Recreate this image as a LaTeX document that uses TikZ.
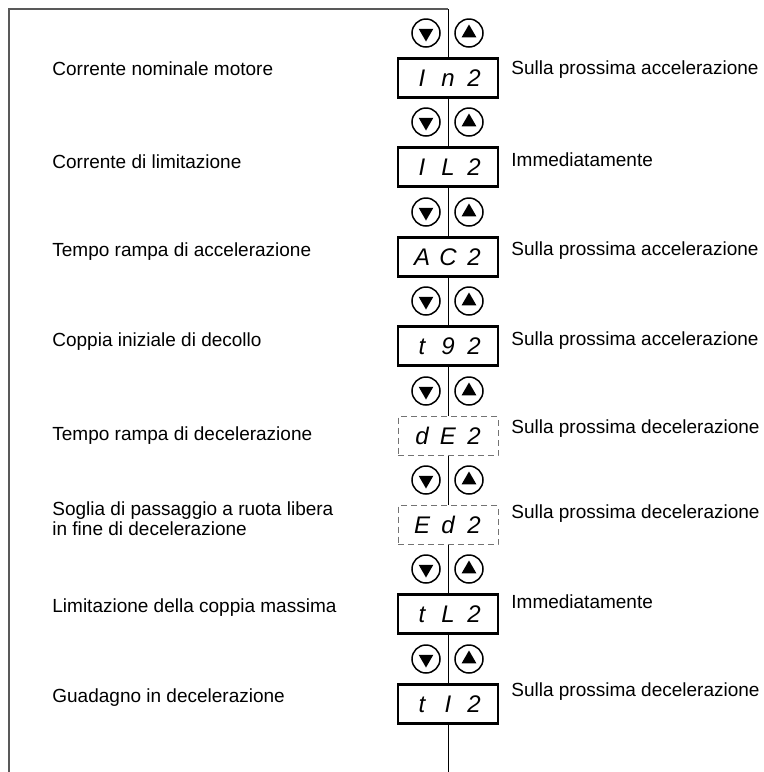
\documentclass[tikz,border=0pt]{standalone}
\usepackage{fontspec}
\setmainfont{Liberation Sans}
\usepackage{tikz}
\usetikzlibrary{
    calc,
    positioning,
    shapes.geometric
}
\newcommand{\segchars}[3]{\makebox[13pt]{#1}\makebox[13pt]{#2}\makebox[13pt]{#3}}
\tikzset
{
  display/.style={draw,line width=1.25pt,minimum width=50pt,minimum height=19.5pt,inner sep=0pt,
    font=\itshape\fontsize{12}{12}\selectfont},
  dashdisplay/.style={display,draw=black!55,line width=0.5pt,dash pattern=on 3pt off 2pt},
  button/.style={circle,draw,line width=0.75pt,minimum size=14pt,inner sep=0pt},
  triup/.style={regular polygon,regular polygon sides=3,fill,inner sep=0pt,minimum size=8.5pt},
  tridown/.style={triup,shape border rotate=180},
  param/.style={anchor=west,inner sep=0pt,align=left,font=\fontsize{9.5}{8.5}\selectfont},
  frame/.style={draw=black!65,line width=0.8pt},
  spine/.style={draw,line width=0.5pt}
}
\begin{document}
\begin{tikzpicture}[x=0.5pt,y=-0.5pt]
        \useasboundingbox (0,0) rectangle (764,772);

        % Frame corners
        \coordinate (topleft) at (9,9);
        \coordinate (botleft) at (9,772);
        \coordinate (topmid) at (448,9);
        \coordinate (botmid) at (448,772);

        % Displays
        \node[display] (disp1) at (448,78) {\segchars{I}{n}{2}};
        \node[display] (disp2) at (448,167) {\segchars{I}{L}{2}};
        \node[display] (disp3) at (448,257) {\segchars{A}{C}{2}};
        \node[display] (disp4) at (448,346) {\segchars{t}{9}{2}};
        \node[dashdisplay] (disp5) at (448,436) {\segchars{d}{E}{2}};
        \node[dashdisplay] (disp6) at (448,525) {\segchars{E}{d}{2}};
        \node[display] (disp7) at (448,614) {\segchars{t}{L}{2}};
        \node[display] (disp8) at (448,704) {\segchars{t}{I}{2}};

        % Buttons down / up
        \foreach \i/\y in {1/33,2/122,3/212,4/301,5/391,6/480,7/569,8/659}
        {
            \node[button] (dn\i) at (426,\y) {};
            \node[tridown] at (dn\i) {};
            \node[button] (up\i) at (469,\y) {};
            \node[triup] at (up\i) {};
        }

        % Frame and spine
        \draw[frame] (botleft) -- (topleft) -- (topmid);
        \draw[spine] (topmid) -- (disp1.north);
        \foreach \i [evaluate=\i as \j using int(\i+1)] in {1,...,7}
            \draw[spine] (disp\i.south) -- (disp\j.north);
        \draw[spine] (disp8.south) -- (botmid);

        % Parameter names
        \node[param] (par1) at (52,69) {Corrente nominale motore};
        \node[param] (par2) at (52,162) {Corrente di limitazione};
        \node[param] (par3) at (52,252) {Tempo rampa di accelerazione};
        \node[param] (par4) at (52,342) {Coppia iniziale di decollo};
        \node[param] (par5) at (52,436) {Tempo rampa di decelerazione};
        \node[param] (par6) at (52,519) {Soglia di passaggio a ruota libera\\in fine di decelerazione};
        \node[param] (par7) at (52,608) {Limitazione della coppia massima};
        \node[param] (par8) at (52,698) {Guadagno in decelerazione};

        % When the change takes effect
        \node[param] (when1) at (511,70) {Sulla prossima accelerazione};
        \node[param] (when2) at (511,160) {Immediatamente};
        \node[param] (when3) at (511,251) {Sulla prossima accelerazione};
        \node[param] (when4) at (511,341) {Sulla prossima accelerazione};
        \node[param] (when5) at (511,429) {Sulla prossima decelerazione};
        \node[param] (when6) at (511,514) {Sulla prossima decelerazione};
        \node[param] (when7) at (511,602) {Immediatamente};
        \node[param] (when8) at (511,692) {Sulla prossima decelerazione};
    \end{tikzpicture}
\end{document}
